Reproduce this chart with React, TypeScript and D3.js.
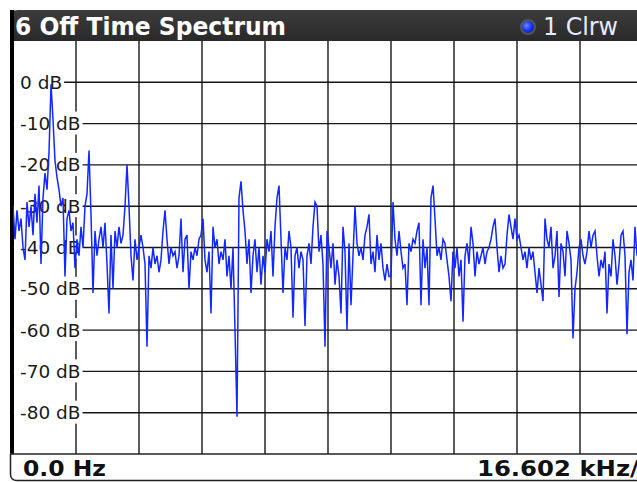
import React, { useLayoutEffect, useRef, useState } from 'react';
import * as d3 from 'd3';

const TITLE = '6 Off Time Spectrum';
const TRACE_LABEL = '1 Clrw';
const START_LABEL = '0.0 Hz';
const SPAN_LABEL = '16.602 kHz/';
const DIV_KHZ = 16.602;
const X_DIVS = 10;
const DB_TOP = 10;
const DB_BOTTOM = -90;
const DB_TICKS = [0, -10, -20, -30, -40, -50, -60, -70, -80];
const SWEEP_POINTS = 316;

// trace level (dB), one point per sweep bin
const traceA = [-30, -38, -31, -36, -33, -40, -43, -29, -35, -30, -37, -27, -34, -25, -44, -28, -22, -26, -17, -0.5, -9, -19, -23, -26, -30, -28, -47, -33, -31, -36, -34, -45, -38, -42, -35, -40, -30, -27, -16.5, -32, -51, -36, -42, -38, -35, -40, -34, -44, -56, -37, -50, -36, -40, -35, -39, -37, -30, -20, -30, -42, -48, -38, -43, -40];
const traceB = [-37, -40, -44, -64, -42, -45, -40, -44, -42, -46, -43, -36, -31, -38, -44, -40, -42, -41, -45, -42, -33, -46, -38, -37, -50, -41, -43, -40, -42, -38, -37, -33, -43, -46, -41, -56, -35, -40, -38, -44, -41, -43, -38, -47, -42, -50, -40, -60, -81, -28, -24, -31, -36, -44, -38, -51, -42, -38, -46, -40, -49, -42];
const traceC = [-46, -38, -41, -36, -47, -35, -28, -25, -38, -51, -40, -43, -36, -40, -57, -42, -40, -45, -41, -43, -59, -42, -39, -44, -35, -29, -30, -41, -37, -44, -64, -36, -40, -45, -39, -49, -43, -47, -56, -35, -41, -60, -39, -54, -42, -30, -39, -42, -40, -43, -37, -35, -32, -44, -41, -46, -37, -43, -39, -45, -48, -44, -47];
const traceD = [-47, -29, -38, -42, -36, -41, -45, -44, -54, -39, -41, -38, -39, -36, -34, -54, -38, -45, -40, -54, -28, -25, -33, -42, -40, -43, -38, -39, -43, -47, -53, -41, -45, -40, -47, -43, -58, -42, -39, -44, -35, -39, -47, -41, -44, -42, -40, -44, -41, -40, -38, -35, -33, -40, -46, -42, -45, -44, -37, -32, -35, -38];
const traceE = [-33, -38, -37, -40, -43, -41, -45, -40, -43, -41, -46, -51, -45, -49, -53, -33, -38, -40, -35, -45, -42, -36, -52, -39, -41, -47, -36, -39, -43, -62, -50, -46, -40, -38, -42, -44, -41, -36, -40, -37, -36, -42, -47, -43, -45, -41, -56, -44, -47, -38, -42, -49, -44, -37, -36, -42, -61, -46, -43, -48, -35, -42, -39];

const traceDb = [...traceA, ...traceB, ...traceC, ...traceD, ...traceE];

const W = 637;
const H = 482;
const FONT = '"DejaVu Sans", Verdana, sans-serif';

export default function App() {
  const plot = { left: 13, right: 643, top: 41, bottom: 454 };
  const x = d3.scaleLinear().domain([0, DIV_KHZ * X_DIVS]).range([plot.left, plot.right]);
  const y = d3.scaleLinear().domain([DB_TOP, DB_BOTTOM]).range([plot.top, plot.bottom]);
  const binKHz = (DIV_KHZ * X_DIVS) / (SWEEP_POINTS - 1);
  const line = d3
    .line<number>()
    .x((_, i) => x(i * binKHz))
    .y((d) => y(d));
  const xGrid = d3.range(1, X_DIVS).map((k) => x(k * DIV_KHZ));

  const labelRefs = useRef<(SVGTextElement | null)[]>([]);
  const [labelW, setLabelW] = useState<number[]>(DB_TICKS.map(() => 56));
  useLayoutEffect(() => {
    const ws = labelRefs.current.map((t) => (t ? t.getComputedTextLength() : 56));
    setLabelW(ws);
  }, []);

  const labelX = 20;

  return (
    <svg
      width={W}
      height={H}
      style={{ position: 'absolute', left: 0, top: 0, background: '#fff' }}
      fontFamily={FONT}
    >
      <defs>
        <linearGradient id="titleGrad" x1="0" y1="0" x2="0" y2="1">
          <stop offset="0" stopColor="#3c3c3c" />
          <stop offset="0.18" stopColor="#0c0c0c" />
          <stop offset="1" stopColor="#000" />
        </linearGradient>
        <radialGradient id="ledGrad" cx="0.4" cy="0.4" r="0.6">
          <stop offset="0" stopColor="#7088ff" />
          <stop offset="0.6" stopColor="#1633ff" />
          <stop offset="1" stopColor="#0a1aa8" />
        </radialGradient>
        <clipPath id="plotClip">
          <rect x={plot.left} y={plot.top} width={plot.right - plot.left} height={plot.bottom - plot.top} />
        </clipPath>
      </defs>

      {/* frame / title bar */}
      <path d={`M10,${plot.bottom} V18 Q10,10 18,10 H${W + 5} V${plot.top} H14 V${plot.bottom} Z`} fill="url(#titleGrad)" />
      <rect x={10} y={10} width={4} height={plot.bottom - 10} fill="#000" />
      <rect x={plot.left + 1} y={plot.top} width={plot.right - plot.left} height={plot.bottom - plot.top} fill="#fff" />

      {/* grid */}
      <g stroke="#161616" strokeWidth={1.4}>
        {DB_TICKS.map((d) => (
          <line key={`h${d}`} x1={plot.left} x2={plot.right} y1={y(d)} y2={y(d)} />
        ))}
        {xGrid.map((gx, i) => (
          <line key={`v${i}`} x1={gx} x2={gx} y1={plot.top} y2={plot.bottom} />
        ))}
      </g>

      {/* level labels with white backing */}
      {DB_TICKS.map((d, i) => (
        <rect key={`lb${d}`} x={14} y={y(d) - 12} width={labelX - 14 + labelW[i] + 2} height={23} fill="#fff" />
      ))}
      {DB_TICKS.map((d, i) => (
        <text
          key={`lt${d}`}
          ref={(el) => {
            labelRefs.current[i] = el;
          }}
          x={labelX}
          y={y(d) + 6.5}
          fontSize={18.5}
          fill="#1a1a1a"
        >
          {`${d} dB`}
        </text>
      ))}

      {/* trace */}
      <g clipPath="url(#plotClip)">
        <path d={line(traceDb) ?? ''} fill="none" stroke="#1228ff" strokeWidth={1.5} strokeLinejoin="miter" />
      </g>

      {/* bottom strip */}
      <path
        d={`M10.5,${plot.bottom} V474 Q10.5,480.5 17,480.5 H${W + 5}`}
        fill="#fff"
        stroke="#222"
        strokeWidth={1.5}
      />
      <line x1={10} x2={W + 5} y1={plot.bottom} y2={plot.bottom} stroke="#222" strokeWidth={1.6} />
      <text x={23} y={476} fontSize={22} fontWeight="bold" fill="#111" textLength={83} lengthAdjust="spacingAndGlyphs">
        {START_LABEL}
      </text>
      <text x={477} y={476} fontSize={22} fontWeight="bold" fill="#111" textLength={162} lengthAdjust="spacingAndGlyphs">
        {SPAN_LABEL}
      </text>

      {/* title & trace legend */}
      <text x={15} y={35} fontSize={25} fontWeight="bold" fill="#fff" textLength={271} lengthAdjust="spacingAndGlyphs">
        {TITLE}
      </text>
      <circle cx={528} cy={27} r={7} fill="url(#ledGrad)" stroke="#555" strokeWidth={2.2} />
      <text x={543} y={35} fontSize={24} fill="#e6ecff" textLength={75} lengthAdjust="spacingAndGlyphs">
        {TRACE_LABEL}
      </text>
    </svg>
  );
}
